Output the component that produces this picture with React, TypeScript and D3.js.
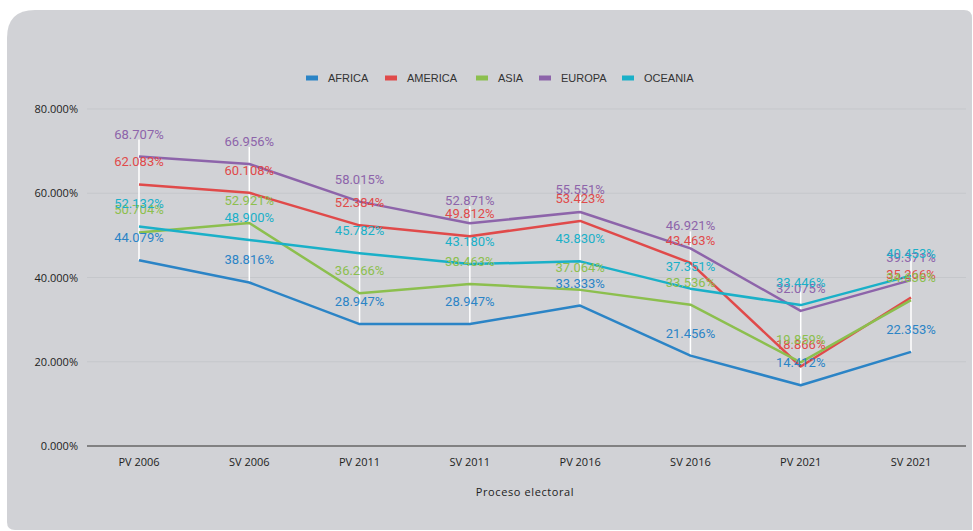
import React from "react";
import * as d3 from "d3";

const categories = ["PV 2006", "SV 2006", "PV 2011", "SV 2011", "PV 2016", "SV 2016", "PV 2021", "SV 2021"];
const seriesNames = ["AFRICA", "AMERICA", "ASIA", "EUROPA", "OCEANIA"];
const africa = [44.079, 38.816, 28.947, 28.947, 33.333, 21.456, 14.412, 22.353];
const america = [62.083, 60.108, 52.384, 49.812, 53.423, 43.463, 18.866, 35.266];
const asia = [50.704, 52.921, 36.266, 38.463, 37.064, 33.536, 19.859, 34.636];
const europa = [68.707, 66.956, 58.015, 52.871, 55.551, 46.921, 32.075, 39.371];
const oceania = [52.132, 48.9, 45.782, 43.18, 43.83, 37.351, 33.446, 40.453];
const yTicks = [0, 20, 40, 60, 80];
const colors = ["#2b84c6", "#e04a4a", "#8cbf4e", "#8d64aa", "#1ab0c8"];

const seriesValues = [africa, america, asia, europa, oceania];

export default function App() {
  const W = 973, H = 531;
  const x = d3.scalePoint<string>().domain(categories).range([139, 911]);
  const y = d3.scaleLinear().domain([0, 80]).range([446, 109]);
  const line = d3.line<number>().x((_, i) => x(categories[i])!).y((v) => y(v));
  const fmt = (v: number) => v.toFixed(3) + "%";
  const legendX = [306, 385, 476, 539, 622];

  return (
    <svg width={W} height={H} style={{ position: "absolute", left: 0, top: 0, background: "#fff" }}>
      <path
        d={`M7,38 Q7,10 35,10 L964,10 Q972,10 972,18 L972,530 L15,530 Q7,530 7,522 Z`}
        fill="#d1d2d6"
      />
      {/* legend */}
      {seriesNames.map((n, i) => (
        <g key={n}>
          <rect x={legendX[i]} y={75.5} width={12} height={5} fill={colors[i]} />
          <text x={legendX[i] + 22} y={82} fontFamily="Liberation Sans, Arial, sans-serif" fontSize={11} fill="#333">
            {n}
          </text>
        </g>
      ))}
      {/* grid */}
      {yTicks.map((t) => (
        <g key={t}>
          {t > 0 && <line x1={87} x2={966} y1={y(t)} y2={y(t)} stroke="#c5c7cb" strokeWidth={1} />}
          <text x={78} y={y(t) + 4} textAnchor="end" fontFamily="Open Sans, sans-serif" fontSize={11} fill="#222">
            {t.toFixed(3) + "%"}
          </text>
        </g>
      ))}
      {/* high-low white lines */}
      {categories.map((c, i) => {
        const vals = seriesValues.map((s) => s[i]);
        const mx = d3.max(vals)!, mn = d3.min(vals)!;
        return (
          <line key={c} x1={x(c)} x2={x(c)} y1={y(mx) - 17} y2={y(mn)} stroke="#ffffff" strokeWidth={1.5} />
        );
      })}
      <line x1={87} x2={966} y1={y(0)} y2={y(0)} stroke="#666" strokeWidth={1.5} />
      {/* lines */}
      {seriesValues.map((s, si) => (
        <path key={si} d={line(s)!} fill="none" stroke={colors[si]} strokeWidth={2.5} strokeLinejoin="round" />
      ))}
      {/* labels */}
      {seriesValues.map((s, si) =>
        s.map((v, i) => (
          <text
            key={si + "-" + i}
            x={x(categories[i])}
            y={y(v) - 18}
            textAnchor="middle"
            fontFamily="Roboto, sans-serif"
            fontSize={13}
            fill={colors[si]}
          >
            {fmt(v)}
          </text>
        ))
      )}
      {/* x ticks */}
      {categories.map((c) => (
        <text key={c} x={x(c)} y={466} textAnchor="middle" fontFamily="Open Sans, sans-serif" fontSize={11} fill="#222">
          {c}
        </text>
      ))}
      <text x={525} y={496} textAnchor="middle" fontFamily="Open Sans, sans-serif" fontSize={11} letterSpacing={0.6} fill="#222">
        Proceso electoral
      </text>
    </svg>
  );
}
